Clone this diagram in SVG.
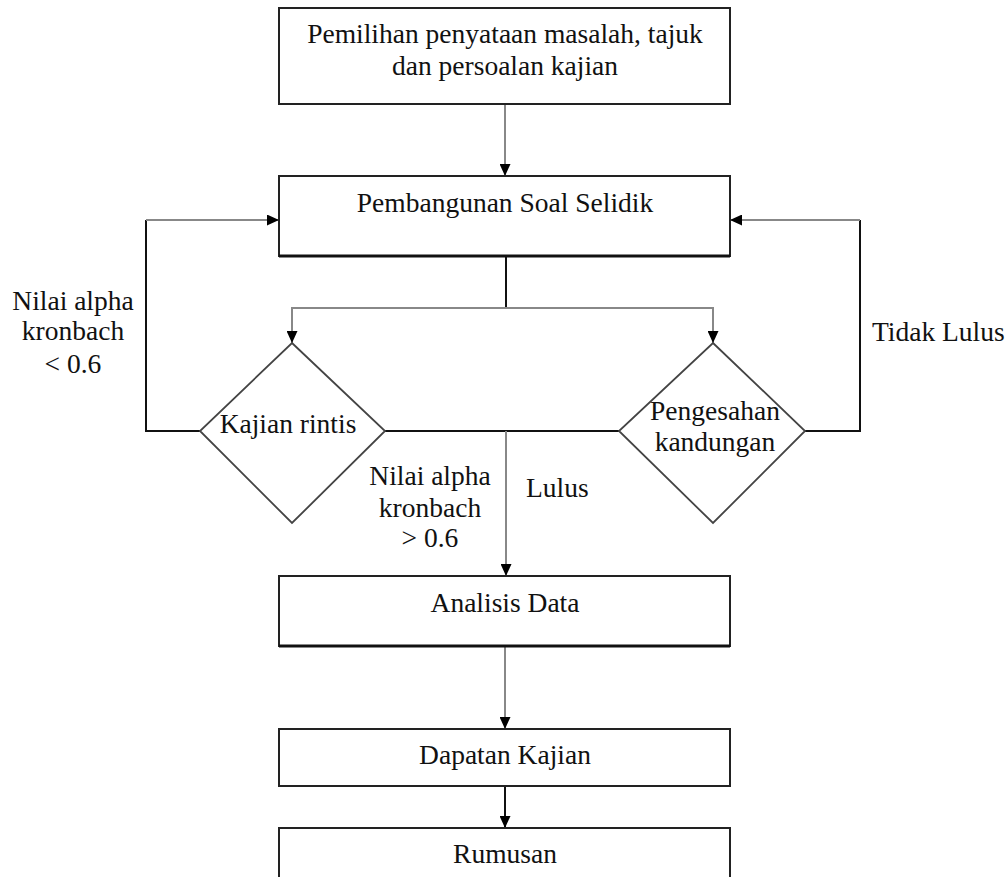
<svg xmlns="http://www.w3.org/2000/svg" width="1005" height="877" viewBox="0 0 1005 877">
<style>
.box{fill:#fff;stroke:#222;stroke-width:2}
.dia{fill:#fff;stroke:#444;stroke-width:1.8}
.edge{fill:none;stroke:#111;stroke-width:3}
text{font-family:'Liberation Serif','DejaVu Serif',serif;font-size:27.5px;fill:#111}
.m{text-anchor:middle}
.k{fill:none;stroke:#111;stroke-width:2}
.g{fill:none;stroke:#888;stroke-width:2}
</style>
<defs>
<marker id="ah" markerUnits="userSpaceOnUse" markerWidth="12" markerHeight="11" refX="12" refY="5.5" orient="auto-start-reverse">
<path d="M0,0 L12,5.5 L0,11 z" fill="#000"/>
</marker>
</defs>
<rect width="1005" height="877" fill="#fff"/>
<g id="connectors">
<path class="g" d="M505,104 V176" marker-end="url(#ah)"/>
<path class="k" d="M506,256 V308"/>
<path class="g" d="M292,343 V308 H713 V343" marker-start="url(#ah)" marker-end="url(#ah)"/>
<path class="k" d="M200,431 H146 V220"/>
<path class="g" d="M146,220 H279" marker-end="url(#ah)"/>
<path class="k" d="M805,431 H860 V220"/>
<path class="g" d="M860,220 H730" marker-end="url(#ah)"/>
<path class="k" d="M385,431 H619"/>
<path class="g" d="M506,431 V576" marker-end="url(#ah)"/>
<path class="g" d="M505,646 V729" marker-end="url(#ah)"/>
<path class="k" d="M505,786 V828" marker-end="url(#ah)"/>
</g>
<g font-family="Liberation Serif, serif">
<g id="n_pemilihan">
<rect class="box" x="279" y="8" width="451" height="96"/>
<text class="m" x="505" y="43">Pemilihan penyataan masalah, tajuk</text>
<text class="m" x="505" y="75">dan persoalan kajian</text>
</g>
<g id="n_pembangunan">
<rect class="box" x="279" y="176" width="451" height="80"/>
<path class="edge" d="M279,256 H730"/>
<text class="m" x="505" y="212">Pembangunan Soal Selidik</text>
</g>
<g id="n_kajian_rintis">
<polygon class="dia" points="292,343 385,431 292,523 200,431"/>
<text class="m" x="288" y="433">Kajian rintis</text>
</g>
<g id="n_pengesahan">
<polygon class="dia" points="713,343 805,431 713,523 619,431"/>
<text class="m" x="715" y="420">Pengesahan</text>
<text class="m" x="715" y="451">kandungan</text>
</g>
<g id="n_analisis">
<rect class="box" x="279" y="576" width="451" height="70"/>
<path class="edge" d="M279,646 H730"/>
<text class="m" x="505" y="612">Analisis Data</text>
</g>
<g id="n_dapatan">
<rect class="box" x="279" y="729" width="451" height="57"/>
<text class="m" x="505" y="764">Dapatan Kajian</text>
</g>
<g id="n_rumusan">
<rect class="box" x="279" y="828" width="451" height="70"/>
<text class="m" x="505" y="863">Rumusan</text>
</g>
<g id="labels">
<text class="m" x="73" y="310">Nilai alpha</text>
<text class="m" x="73" y="340">kronbach</text>
<text class="m" x="73" y="373">&lt; 0.6</text>
<text class="m" x="430" y="485">Nilai alpha</text>
<text class="m" x="430" y="517">kronbach</text>
<text class="m" x="430" y="547">&gt; 0.6</text>
<text x="526" y="497">Lulus</text>
<text x="872" y="341">Tidak Lulus</text>
</g>
</g>
</svg>
